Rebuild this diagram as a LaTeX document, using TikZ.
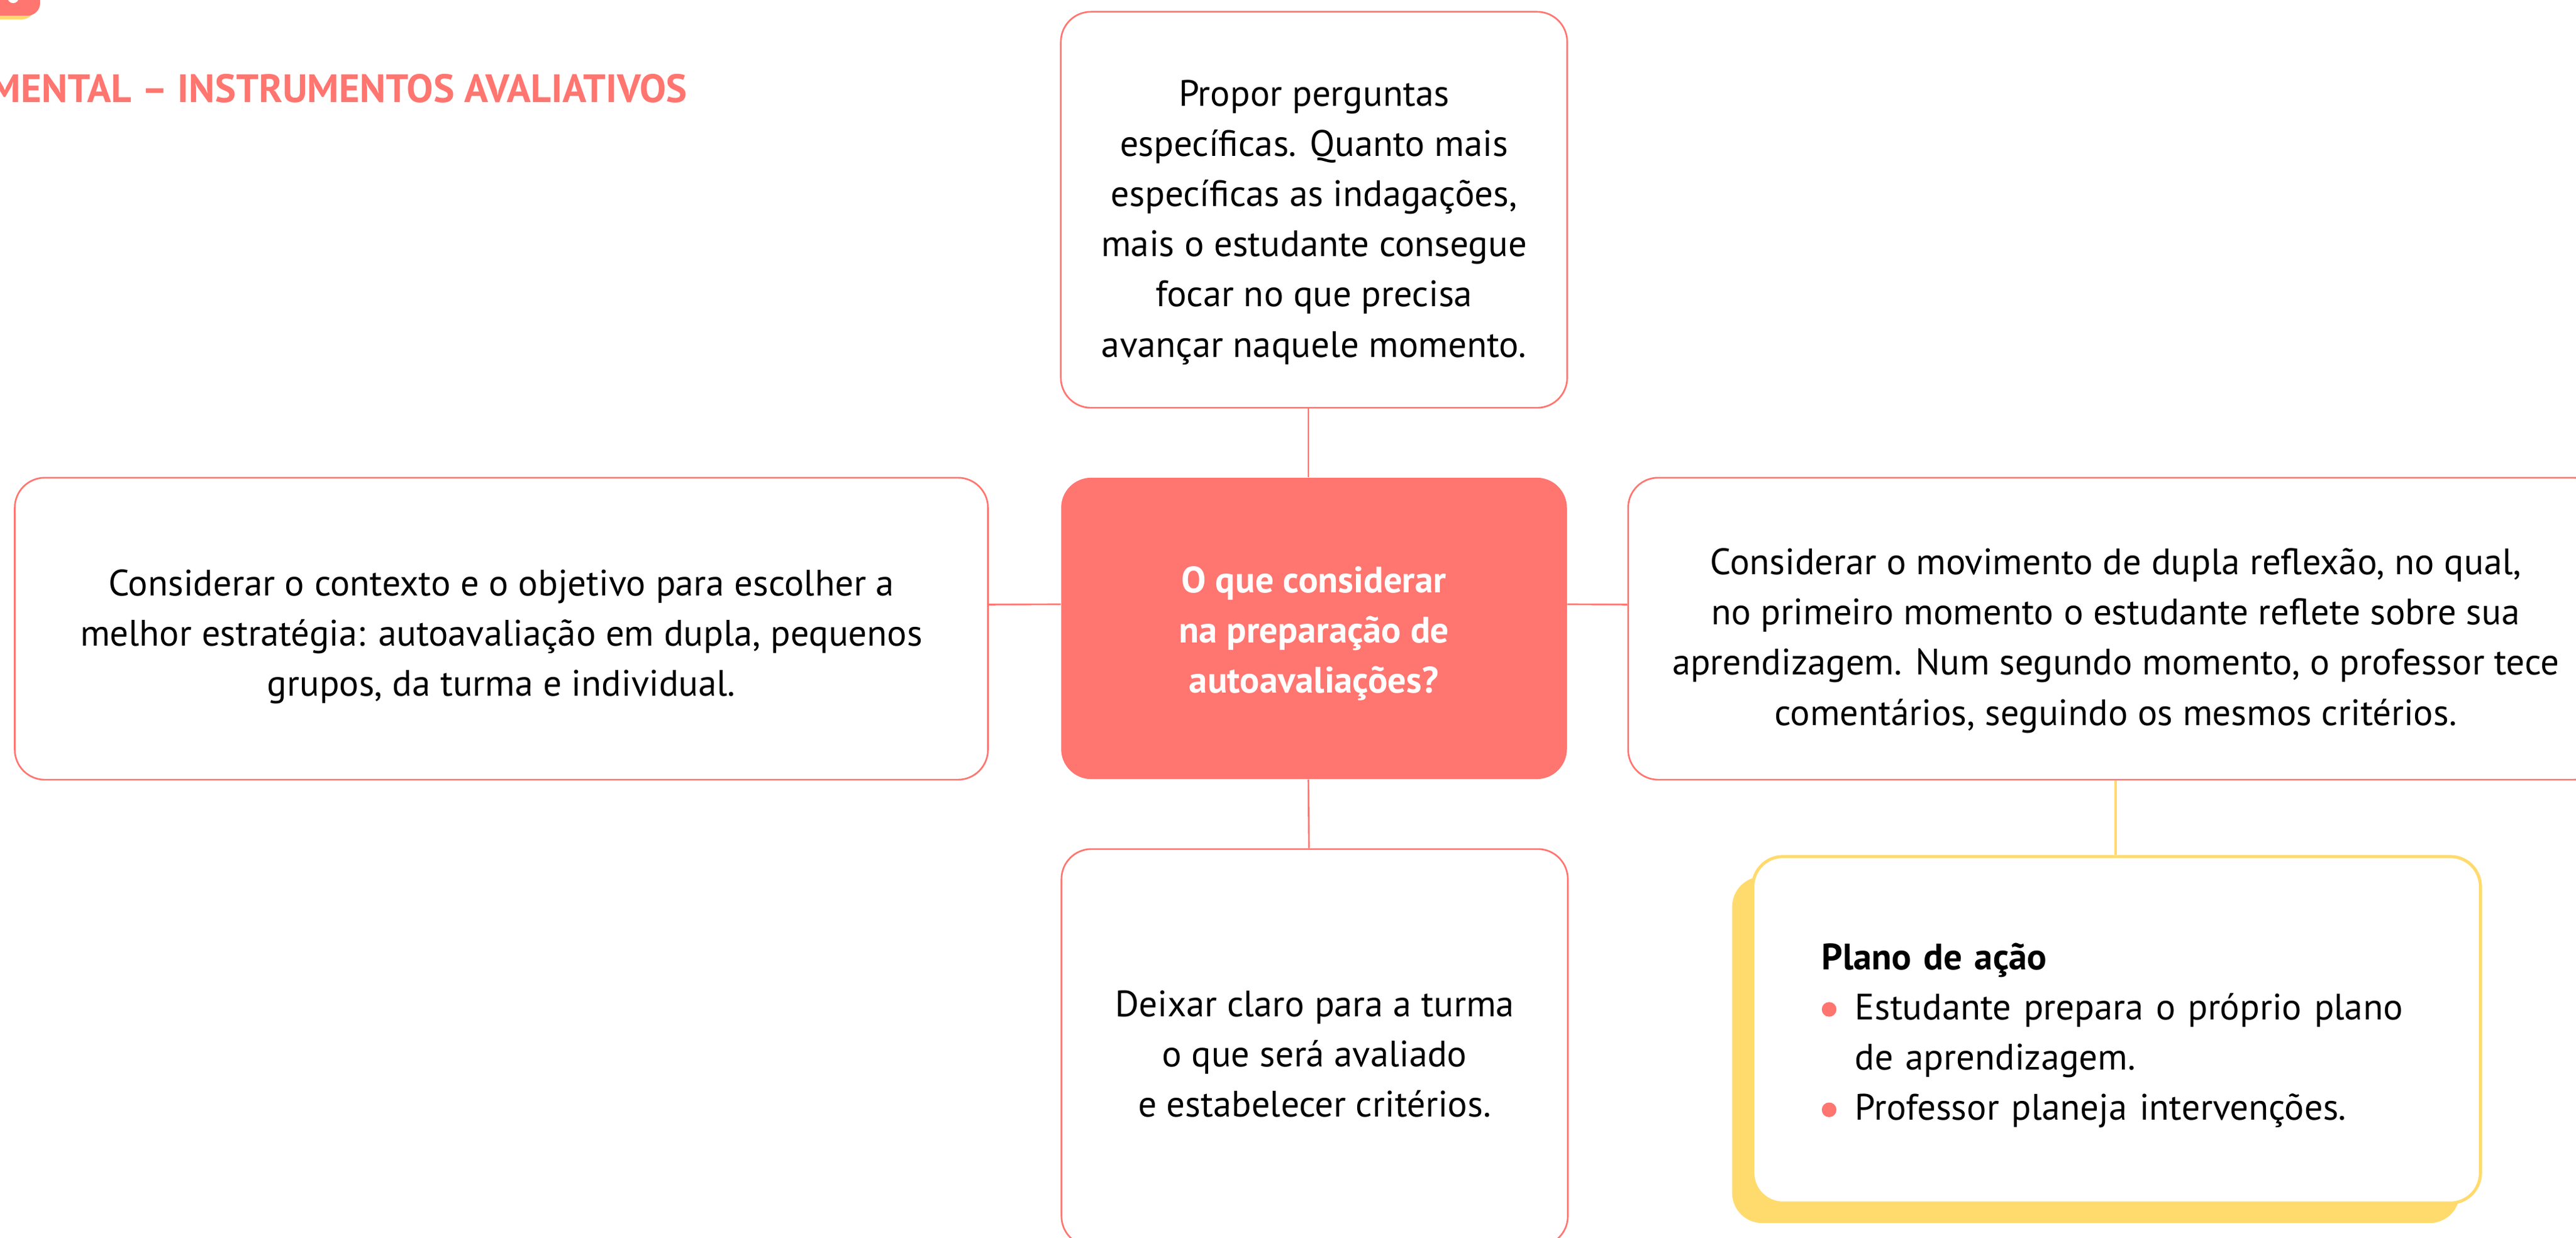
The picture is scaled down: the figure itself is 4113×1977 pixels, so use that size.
\documentclass[tikz,border=0pt]{standalone}
\usepackage{fontspec}
\setmainfont{PT Sans}
\usetikzlibrary{shadows}
\definecolor{salmon}{HTML}{FF7570}
\definecolor{sun}{HTML}{FFDB6E}
\newcommand{\bodyfont}{\fontsize{16.7pt}{22.8pt}\selectfont}
\newcommand{\pdot}{\tikz[baseline=-0.165cm]\fill[salmon] (0,0) circle[radius=0.117cm];}
\tikzset{
  card/.style={draw=salmon, line width=0.75pt, fill=white, rounded corners=0.48cm, inner sep=0pt},
  hub/.style={fill=salmon, rounded corners=0.48cm, inner sep=0pt},
  plan/.style={draw=sun, line width=1.4pt, fill=white, rounded corners=0.48cm, inner sep=0pt,
    drop shadow={shadow xshift=-0.33cm, shadow yshift=-0.32cm, fill=sun, opacity=1, draw=none}},
  txt/.style={inner sep=0pt, align=center, font=\bodyfont, text=black},
  hubtxt/.style={inner sep=0pt, align=center, font=\bodyfont\bfseries, text=white},
  plantxt/.style={inner sep=0pt, align=left, font=\bodyfont, text=black, text width=9.41cm},
  conn/.style={draw=salmon, line width=0.75pt},
  yconn/.style={draw=sun, line width=1.2pt},
  header/.style={font=\fontsize{18pt}{20pt}\selectfont\bfseries, text=salmon, inner sep=0pt, anchor=base east}
}
\begin{document}
\begin{tikzpicture}[x=0.01cm, y=-0.01cm]
\useasboundingbox (0,0) rectangle (4113,1977);
\clip (0,0) rectangle (4113,1977);

% corner badge
\fill[sun, rounded corners=0.2cm] (-200,-192) rectangle (55,31);
\fill[salmon, rounded corners=0.2cm] (-200,-200) rectangle (64,25);
\fill[white] (21,-4) circle[radius=9];

\node[header] (title) at (1098,164) {MENTAL – INSTRUMENTOS AVALIATIVOS};

% boxes
\node[card, minimum width=8.08cm, minimum height=6.32cm] (tb) at (2098,335) {};
\node[hub, minimum width=8.07cm, minimum height=4.81cm] (cb) at (2098,1003.5) {};
\node[card, minimum width=15.53cm, minimum height=4.82cm] (lb) at (800.5,1004) {};
\node[card, minimum width=15.56cm, minimum height=4.82cm] (rb) at (3378,1004) {};
\node[card, minimum width=8.08cm, minimum height=6.34cm] (bb) at (2099,1673) {};
\node[plan, minimum width=11.61cm, minimum height=5.53cm] (pb) at (3379.5,1644.5) {};

% texts
\node[txt] (tbt) at ([yshift=-0.2cm]tb.center)
  {Propor perguntas\\específicas. Quanto mais\\específicas as indagações,\\mais o estudante consegue\\focar no que precisa\\avançar naquele momento.};
\node[hubtxt] (cbt) at ([yshift=-0.08cm]cb.center)
  {O que considerar\\na preparação de\\autoavaliações?};
\node[txt] (lbt) at ([yshift=-0.13cm]lb.center)
  {Considerar o contexto e o objetivo para escolher a\\melhor estratégia: autoavaliação em dupla, pequenos\\grupos, da turma e individual.};
\node[txt] (rbt) at ([yshift=-0.19cm]rb.center)
  {Considerar o movimento de dupla reflexão, no qual,\\no primeiro momento o estudante reflete sobre sua\\aprendizagem. Num segundo momento, o professor tece\\comentários, seguindo os mesmos critérios.};
\node[txt] (bbt) at ([yshift=-0.1cm]bb.center)
  {Deixar claro para a turma\\o que será avaliado\\e estabelecer critérios.};
\node[plantxt] (pbt) at ([yshift=-0.09cm]pb.center)
  {{\bfseries Plano de ação}\\
   \makebox[0.53cm][l]{\pdot}Estudante prepara o próprio plano\\
   \hspace*{0.53cm}de aprendizagem.\\
   \makebox[0.53cm][l]{\pdot}Professor planeja intervenções.};

% connectors
\draw[conn] ([xshift=-0.09cm]tb.south) -- ([xshift=-0.09cm]cb.north);
\draw[conn] ([xshift=-0.09cm]cb.south) -- ([xshift=-0.09cm]bb.north);
\draw[conn] ([yshift=0.385cm]lb.east) -- ([yshift=0.385cm]cb.west);
\draw[conn] ([yshift=0.385cm]cb.east) -- ([yshift=0.385cm]rb.west);
\draw[yconn] (rb.south) -- (rb.south |- pb.north);
\end{tikzpicture}
\end{document}
